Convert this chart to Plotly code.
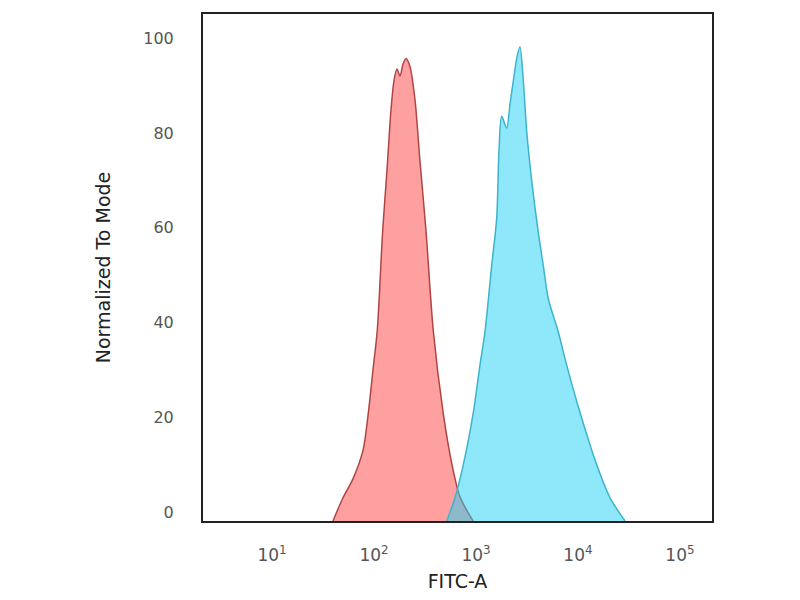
"""
Flow cytometry overlay histogram (FITC-A), normalized to mode
"""
import numpy as np
import plotly.graph_objects as go

# bottom of the frame sits a little under the 0 tick, the curves start there
Y_FLOOR = -1.9

# isotype control (red) - log10 of FITC-A intensity and % of mode
red_log = [1.598, 1.696, 1.794, 1.892, 1.944, 1.990, 2.032, 2.085, 2.127,
           2.167, 2.196, 2.225, 2.255, 2.284, 2.314, 2.353, 2.402, 2.451,
           2.510, 2.581, 2.679, 2.762, 2.843, 2.971]
red_pct = [-1.9, 3, 7, 13, 20.8, 30, 38.3, 59.3, 72,
           85, 91, 93.5, 92, 94.5, 95.7, 94, 87, 74,
           59.3, 38.3, 20.8, 10.3, 3.2, -1.9]

# stained sample (blue)
blue_log = [2.713, 2.794, 2.876, 2.974, 3.039, 3.088, 3.154, 3.203, 3.225,
            3.252, 3.301, 3.333, 3.366, 3.402, 3.431, 3.464, 3.497, 3.546,
            3.611, 3.660, 3.709, 3.807, 3.889, 4.020, 4.183, 4.314, 4.461]
blue_pct = [-1.9, 3, 10, 21, 31, 38, 52, 62, 76,
            83.5, 81, 86, 91, 96, 98.2, 91, 80.4, 70,
            59, 52, 45, 38, 31, 21, 10, 3, -1.9]

x_ticks = [10, 100, 1000, 10000, 100000]
x_tick_labels = ["10<sup>1</sup>", "10<sup>2</sup>", "10<sup>3</sup>",
                 "10<sup>4</sup>", "10<sup>5</sup>"]
y_ticks = [0, 20, 40, 60, 80, 100]

series = [
    (red_log, red_pct, '#b04444', 'rgba(255, 85, 85, 0.56)'),
    (blue_log, blue_pct, '#3cb4cc', 'rgba(30, 210, 245, 0.5)'),
]

fig = go.Figure()

for logs, pct, line_color, fill_color in series:
    x_vals = np.power(10.0, logs)
    # invisible floor so the fill goes down to the frame
    fig.add_trace(go.Scatter(x=[x_vals[0], x_vals[-1]], y=[Y_FLOOR, Y_FLOOR],
                             mode='lines', line={'width': 0},
                             hoverinfo='skip', showlegend=False))
    fig.add_trace(go.Scatter(x=x_vals, y=pct,
                             mode='lines', fill='tonexty',
                             line={'color': line_color, 'width': 1.5,
                                   'shape': 'spline', 'smoothing': 0.8},
                             fillcolor=fill_color,
                             showlegend=False))

# page body has an 8px margin, so the figure is a bit smaller than the window
fig.update_layout(width=792, height=592,
                  margin={'l': 195, 'r': 88, 't': 4, 'b': 79},
                  plot_bgcolor='white', paper_bgcolor='white',
                  font={'family': 'DejaVu Sans', 'color': '#333'})

fig.update_xaxes(type='log', range=[0.3235, 5.314],
                 tickvals=x_ticks, ticktext=x_tick_labels,
                 tickfont={'size': 17, 'color': '#555'},
                 ticks='', ticklabelstandoff=18,
                 showgrid=False, zeroline=False,
                 showline=True, mirror=True, linecolor='#222', linewidth=2,
                 title={'text': 'FITC-A', 'font': {'size': 19, 'color': '#222'},
                        'standoff': 10})
fig.update_yaxes(range=[Y_FLOOR, 105.1], tickvals=y_ticks,
                 tickfont={'size': 16, 'color': '#555'},
                 ticks='', ticklabelstandoff=24,
                 showgrid=False, zeroline=False,
                 showline=True, mirror=True, linecolor='#222', linewidth=2,
                 title={'text': 'Normalized To Mode',
                        'font': {'size': 19, 'color': '#222'},
                        'standoff': 28})

fig.write_html("out.html")
